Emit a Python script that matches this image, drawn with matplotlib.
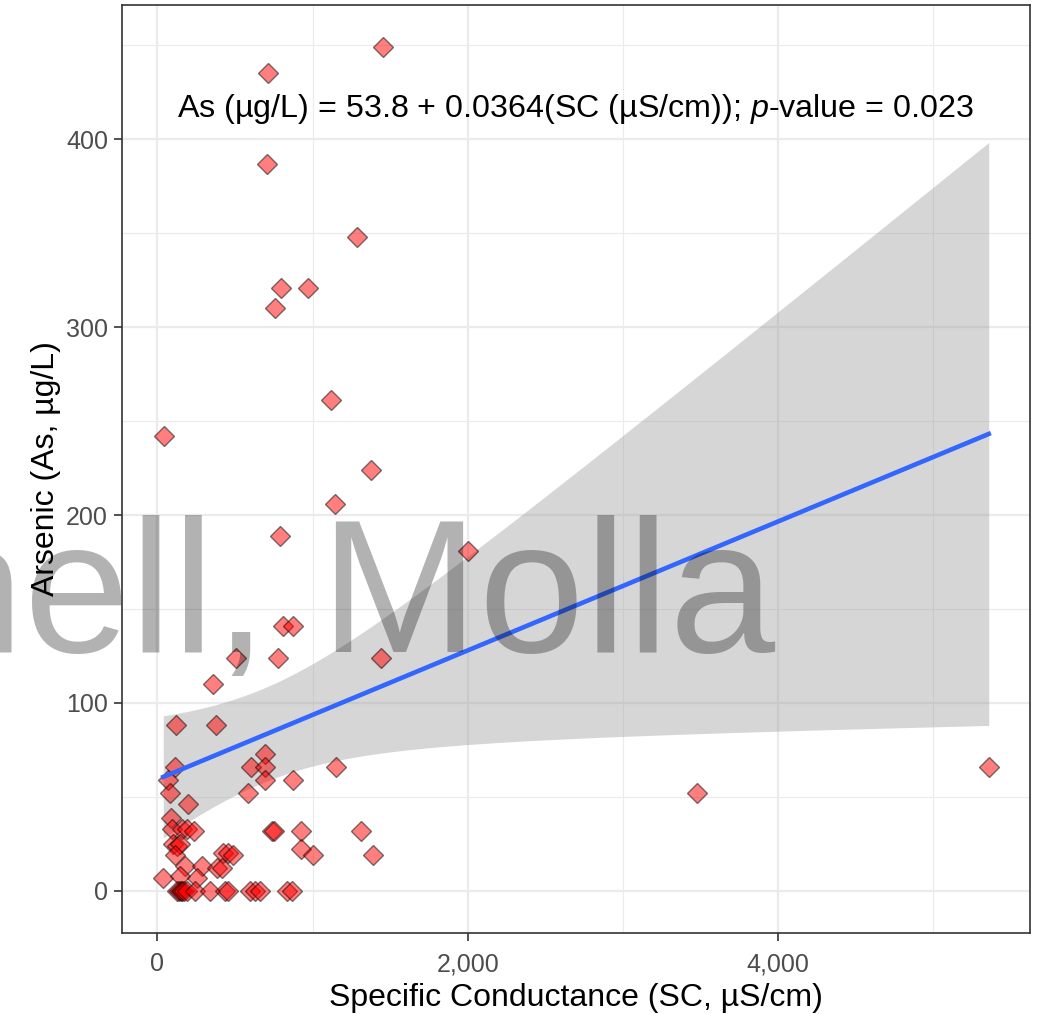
import numpy as np
import matplotlib
matplotlib.use("Agg")
import matplotlib.pyplot as plt

plt.rcParams['font.family'] = ['Liberation Sans', 'DejaVu Sans']
plt.rcParams['mathtext.fontset'] = 'custom'
plt.rcParams['mathtext.rm'] = 'Liberation Sans'
plt.rcParams['mathtext.it'] = 'Liberation Sans:italic'

# ---- data: specific conductance (uS/cm) vs arsenic (ug/L)
sc_hi = [1455, 712, 705, 1288, 795, 968, 756, 1122, 45, 1378, 1147, 788, 2000,
         808, 872, 506, 776, 1442, 359, 378, 122, 692, 603, 692, 1154, 115, 5359,
         692, 872, 71, 83, 583, 3481, 199, 90]
as_hi = [449, 435, 387, 348, 321, 321, 310, 261, 242, 224, 206, 189, 181,
         141, 141, 124, 124, 124, 110, 88, 88, 73, 66, 66, 66, 66, 66,
         59, 59, 59, 52, 52, 52, 46, 39]
sc_lo = [96, 160, 192, 237, 737, 750, 929, 1314, 103, 128, 147, 929, 1000, 1391,
         115, 423, 455, 487, 179, 288, 385, 417, 38, 147, 256]
as_lo = [33, 33, 33, 32, 32, 32, 32, 32, 25, 24, 25, 22, 19, 19,
         19, 20, 20, 19, 13, 13, 12, 12, 7, 8, 7]
sc_zero = [128, 141, 150, 160, 173, 192, 244, 340, 436, 455, 596, 628, 660, 833, 865]
as_zero = [0] * len(sc_zero)

sc = np.array(sc_hi + sc_lo + sc_zero, float)
As = np.array(as_hi + as_lo + as_zero, float)

EQ = "As (µg/L) = 53.8 + 0.0364(SC (µS/cm)); $\\it{p}$-value = 0.023"
T95 = 1.99   # t quantile, ~n-2 dof

# ---- linear fit + 95% CI (as geom_smooth(method="lm"))
n = sc.size
b1, b0 = np.polyfit(sc, As, 1)
res = As - (b0 + b1*sc)
s = np.sqrt(np.sum(res**2)/(n-2))
xg = np.linspace(sc.min(), sc.max(), 200)
yg = b0 + b1*xg
se = s*np.sqrt(1/n + (xg - sc.mean())**2/np.sum((sc - sc.mean())**2))

fig = plt.figure(figsize=(10.43, 10.14), dpi=100)
ax = fig.add_axes([122/1043, 1-933/1014, (1030-122)/1043, (933-5)/1014])

ax.fill_between(xg, yg - T95*se, yg + T95*se, color="#999999", alpha=0.4, lw=0, zorder=2)
ax.plot(sc, As, "D", ms=9.8, mfc=(1, 0, 0, 0.5), mec=(0, 0, 0, 0.5), mew=1.0, zorder=3)
ax.plot(xg, yg, color="#3366FF", lw=3.3, zorder=4)

xr = sc.max() - sc.min(); yr = As.max() - As.min()
ax.set_xlim(sc.min() - 0.05*xr, sc.max() + 0.05*xr)
ax.set_ylim(As.min() - 0.05*yr, As.max() + 0.05*yr)

ax.set_xticks([0, 2000, 4000]); ax.set_xticklabels(["0", "2,000", "4,000"])
ax.set_xticks([1000, 3000, 5000], minor=True)
ax.set_yticks([0, 100, 200, 300, 400])
ax.set_yticks([50, 150, 250, 350, 450], minor=True)
ax.grid(which="major", color="#EBEBEB", lw=1.6)
ax.grid(which="minor", color="#EBEBEB", lw=0.8)
ax.set_axisbelow(True)
for sp in ax.spines.values():
    sp.set_color("#333333"); sp.set_linewidth(1.2)
ax.tick_params(which="major", length=6, width=1.2, color="#333333",
               labelcolor="#4D4D4D", labelsize=18, pad=4)
ax.tick_params(axis="x", which="major", pad=8)
ax.tick_params(which="minor", length=0)

ax.set_xlabel("Specific Conductance (SC, µS/cm)", fontsize=23, labelpad=5)
ax.set_ylabel("Arsenic (As, µg/L)", fontsize=23, labelpad=4)

ax.text(2692, 416, EQ, fontsize=23.2, ha="center", va="center", zorder=5)

# watermark over the panel
fig.text(775/1043, 1-652/1014, "hell, Molla", fontsize=137, color="black",
         alpha=0.3, ha="right", va="baseline")

fig.savefig("out.png", dpi=100)
